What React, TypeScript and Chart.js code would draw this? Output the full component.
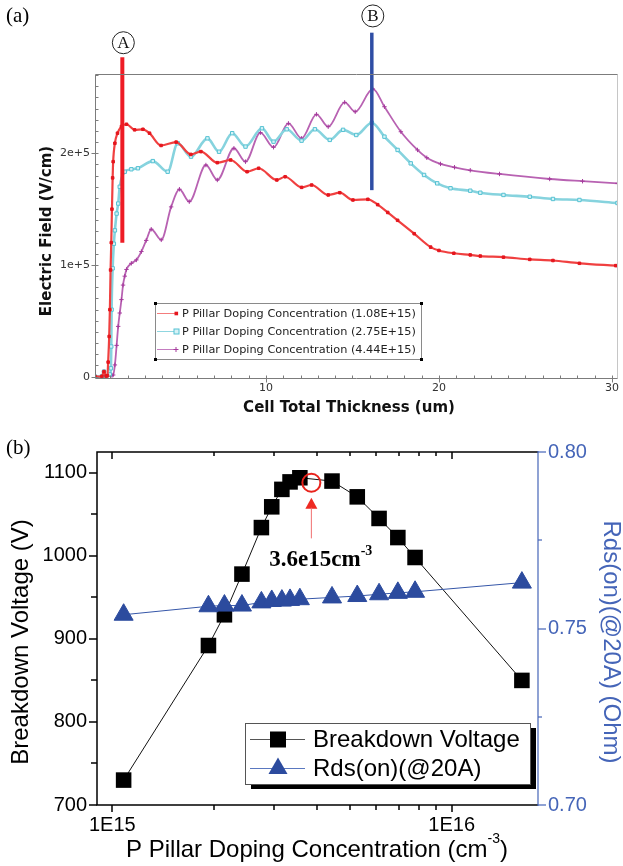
import React, { useEffect, useRef } from 'react';
import { Chart, registerables } from 'chart.js';
Chart.register(...registerables);

// ---------------- Panel (a): electric field along the cell ----------------
const thicknessRed = [0.13, 0.52, 0.64, 0.76, 0.84, 0.88, 0.94, 0.98, 1.02, 1.06, 1.10, 1.14, 1.17, 1.27, 1.42, 1.65, 1.94, 2.41, 2.89, 3.27, 3.94, 4.81, 5.66, 6.24, 7.19, 7.96, 8.91, 9.58, 10.63, 11.11, 12.06, 12.64, 13.60, 14.27, 15.03, 15.89, 16.46, 17.04, 17.61, 18.57, 19.52, 20.00, 20.86, 21.81, 22.39, 23.73, 25.25, 26.59, 28.12, 30.22];
const fieldRed = [0, 300, 4500, 500, 800, 13000, 36000, 60000, 95500, 120000, 150000, 178000, 192500, 209000, 218000, 224000, 226000, 221000, 221500, 218000, 207000, 210000, 199000, 201500, 191600, 194000, 183500, 186600, 176100, 179000, 169500, 171600, 162700, 164700, 158200, 158800, 154000, 147000, 140000, 128000, 116000, 113000, 110500, 109000, 108000, 107000, 105000, 104000, 101500, 99400];

const thicknessCyan = [0.13, 0.52, 0.64, 0.76, 0.98, 1.04, 1.06, 1.08, 1.14, 1.21, 1.27, 1.37, 1.46, 1.55, 1.84, 2.22, 2.60, 3.46, 4.32, 4.90, 5.67, 6.62, 7.29, 8.05, 8.82, 9.77, 10.44, 11.20, 12.06, 12.83, 13.69, 14.46, 15.22, 16.12, 16.85, 17.61, 18.37, 19.14, 19.90, 20.67, 21.81, 22.39, 23.73, 25.25, 26.59, 28.12, 30.32];
const fieldCyan = [0, 300, 4500, 500, 2000, 7500, 27000, 60000, 97000, 119000, 131000, 146000, 155000, 170000, 183500, 185700, 186600, 193000, 183500, 209000, 197000, 213400, 201400, 218000, 206000, 222400, 210400, 221500, 211300, 221500, 212000, 221000, 216400, 227400, 214900, 203000, 191000, 180600, 173100, 168700, 166500, 164700, 162700, 161100, 159100, 158200, 155500];

const thicknessMagenta = [0.13, 0.52, 0.64, 0.76, 1.10, 1.17, 1.27, 1.37, 1.46, 1.55, 1.65, 1.74, 1.84, 1.94, 2.22, 2.51, 2.80, 3.08, 3.37, 3.95, 4.52, 5.00, 5.57, 6.53, 7.19, 8.15, 8.82, 9.68, 10.44, 11.30, 12.06, 12.92, 13.60, 14.55, 15.16, 16.18, 16.85, 17.80, 18.76, 19.30, 20.09, 20.90, 21.81, 23.50, 26.40, 28.30, 30.32];
const fieldMagenta = [0, 300, 4500, 500, 1000, 1500, 10500, 28000, 45000, 57000, 69000, 82000, 90000, 96000, 101500, 104500, 112000, 122000, 132000, 122500, 152000, 167800, 156700, 189500, 176100, 204500, 192500, 218500, 205400, 226800, 213400, 234900, 223800, 245600, 237200, 257600, 241700, 219300, 203000, 196000, 190500, 187500, 184800, 181500, 177000, 175000, 173100];

const seriesLabelsA = [
  'P Pillar Doping Concentration (1.08E+15)',
  'P Pillar Doping Concentration (2.75E+15)',
  'P Pillar Doping Concentration (4.44E+15)',
];
const xTicksA = [10, 20, 30];
const yTicksA = [0, 100000, 200000];
const yTickLabelsA = ['0', '1e+5', '2e+5'];
const xTitleA = 'Cell Total Thickness (um)';
const yTitleA = 'Electric Field (V/cm)';

const markerNames = ['A', 'B'];
const markerX = [1.70, 16.12];
const markerYBottom = [120000, 167000];
const markerYTop = [286000, 308000];
const markerLabelY = [299000, 323000];

// ---------------- Panel (b): breakdown voltage & Rds(on) ----------------
const dopingConc = [1.08e15, 1.92e15, 2.14e15, 2.41e15, 2.75e15, 2.95e15, 3.16e15, 3.34e15, 3.57e15, 4.44e15, 5.27e15, 6.11e15, 6.94e15, 7.8e15, 1.61e16];
const breakdownV = [730, 892, 929, 978, 1034, 1059, 1080, 1089, 1094, 1090, 1071, 1045, 1022, 998, 850];
const rdsOn = [0.7539, 0.7563, 0.7565, 0.7565, 0.7574, 0.7578, 0.7579, 0.7581, 0.7583, 0.7588, 0.7592, 0.7597, 0.7601, 0.7604, 0.7630];

const seriesLabelsB = ['Breakdown Voltage', 'Rds(on)(@20A)'];
const xTicksB = [1e15, 1e16];
const xTickLabelsB = ['1E15', '1E16'];
const xMinorB = [2e15, 3e15, 4e15, 5e15, 6e15, 7e15, 8e15, 9e15];
const yTicksB = [700, 800, 900, 1000, 1100];
const yMinorB = [750, 850, 950, 1050];
const y2TicksB = [0.70, 0.75, 0.80];
const y2MinorB = [0.725, 0.775];
const xTitleB = 'P Pillar Doping Concentration (cm';
const xTitleBSup = '-3';
const yTitleB = 'Breakdown Voltage (V)';
const y2TitleB = 'Rds(on)(@20A) (Ohm)';

const optimumConc = 3.86e15;
const optimumV = 1088;
const arrowTipV = 1070;
const arrowTailV = 1021;
const optimumLabel = '3.6e15cm';
const optimumLabelSup = '-3';

const DEJAVU = '"DejaVu Sans", sans-serif';
const SANS = '"Liberation Sans", Arial, sans-serif';
const SERIF = '"Liberation Serif", "Times New Roman", serif';
const BLUE = '#2c4b9e';
const AXIS_BLUE = '#4565b8';

function seg(ctx: any, x1: number, y1: number, x2: number, y2: number) {
  ctx.beginPath();
  ctx.moveTo(x1, y1);
  ctx.lineTo(x2, y2);
  ctx.stroke();
}

const panelAPlugin = {
  id: 'panelA',
  afterDraw(chart: any) {
    const { ctx, chartArea: ca, scales } = chart;
    const xs = scales.x;
    const ys = scales.y;
    const L = Math.round(ca.left) + 0.5;
    const R = Math.round(ca.right) - 0.5;
    const T = Math.round(ca.top) + 0.5;
    const B = Math.round(ca.bottom) + 0.5;
    ctx.save();
    ctx.lineWidth = 1;
    ctx.strokeStyle = '#c6c6c6';
    seg(ctx, R, T, R, B);
    ctx.strokeStyle = '#7c7c7c';
    seg(ctx, L, T, R, T);
    seg(ctx, L, T, L, B);
    seg(ctx, L, B, R, B);
    // y ticks
    for (let v = 10000; v < 271000; v += 10000) {
      if (yTicksA.includes(v)) continue;
      const p = Math.round(ys.getPixelForValue(v)) + 0.5;
      seg(ctx, L, p, L + 3, p);
    }
    yTicksA.forEach((v) => {
      const p = Math.round(ys.getPixelForValue(v)) + 0.5;
      seg(ctx, L - 4, p, L + 3, p);
    });
    // x ticks
    for (let v = 1; v <= 30; v++) {
      if (xTicksA.includes(v)) continue;
      const p = Math.round(xs.getPixelForValue(v)) + 0.5;
      seg(ctx, p, B, p, B - 3);
    }
    xTicksA.forEach((v) => {
      const p = Math.round(xs.getPixelForValue(v)) + 0.5;
      seg(ctx, p, B + 4, p, B - 3);
    });

    // axis titles
    ctx.fillStyle = '#111';
    ctx.font = `bold 15px ${DEJAVU}`;
    ctx.textAlign = 'center';
    ctx.textBaseline = 'middle';
    ctx.fillText(xTitleA, 349, 408);
    ctx.save();
    ctx.translate(47, 231);
    ctx.rotate(-Math.PI / 2);
    ctx.fillText(yTitleA, 0, 0);
    ctx.restore();

    // panel label
    ctx.font = `21px ${SERIF}`;
    ctx.textAlign = 'left';
    ctx.fillStyle = '#000';
    ctx.fillText('(a)', 6, 16);

    // circled marker labels
    markerNames.forEach((name, i) => {
      const cx = xs.getPixelForValue(markerX[i]) + 1;
      const cy = ys.getPixelForValue(markerLabelY[i]);
      ctx.beginPath();
      ctx.arc(cx, cy, 11, 0, Math.PI * 2);
      ctx.strokeStyle = '#222';
      ctx.lineWidth = 1;
      ctx.stroke();
      ctx.fillStyle = '#111';
      ctx.font = `17px ${SERIF}`;
      ctx.textAlign = 'center';
      ctx.textBaseline = 'middle';
      ctx.fillText(name, cx, cy + 1);
    });

    // legend
    const bx = 155.5, by = 303.5, bw = 266, bh = 56;
    ctx.fillStyle = '#fff';
    ctx.fillRect(bx, by, bw, bh);
    ctx.strokeStyle = '#8a8a8a';
    ctx.lineWidth = 1;
    ctx.strokeRect(bx, by, bw, bh);
    ctx.fillStyle = '#000';
    [[bx, by], [bx + bw, by], [bx, by + bh], [bx + bw, by + bh]].forEach(([px, py]) => {
      ctx.fillRect(px - 1.5, py - 1.5, 3, 3);
    });
    const lineCols = ['#f47c7c', '#8fd6e0', '#c47cc0'];
    const ptCols = ['#e5161e', '#55c2d3', '#a53a9c'];
    seriesLabelsA.forEach((lab, i) => {
      const ly = 313.5 + i * 18;
      ctx.strokeStyle = lineCols[i];
      ctx.lineWidth = 1;
      seg(ctx, 157, ly, 178, ly);
      ctx.strokeStyle = ptCols[i];
      ctx.fillStyle = ptCols[i];
      if (i === 0) {
        ctx.fillRect(174.5, ly - 1.8, 3.6, 3.6);
      } else if (i === 1) {
        ctx.fillStyle = '#d6f2f6';
        ctx.fillRect(174, ly - 2.5, 5, 5);
        ctx.strokeRect(174, ly - 2.5, 5, 5);
      } else {
        seg(ctx, 173.5, ly, 178.5, ly);
        seg(ctx, 176, ly - 2.5, 176, ly + 2.5);
      }
      ctx.fillStyle = '#222';
      ctx.font = `11.3px ${DEJAVU}`;
      ctx.textAlign = 'left';
      ctx.textBaseline = 'middle';
      ctx.fillText(lab, 182, ly + 0.5);
    });
    ctx.restore();
  },
};

const panelBPlugin = {
  id: 'panelB',
  afterDraw(chart: any) {
    const { ctx, chartArea: ca, scales } = chart;
    const xs = scales.x;
    const ys = scales.y;
    const y2s = scales.y2;
    const L = Math.round(ca.left);
    const R = Math.round(ca.right);
    const T = Math.round(ca.top);
    const B = Math.round(ca.bottom);
    ctx.save();
    // frame
    ctx.strokeStyle = '#000';
    ctx.lineWidth = 1.5;
    ctx.beginPath();
    ctx.moveTo(R, T);
    ctx.lineTo(L, T);
    ctx.lineTo(L, B);
    ctx.lineTo(R, B);
    ctx.stroke();
    // left ticks
    yTicksB.forEach((v) => {
      const p = Math.round(ys.getPixelForValue(v));
      seg(ctx, L - 8, p, L, p);
    });
    yMinorB.forEach((v) => {
      const p = Math.round(ys.getPixelForValue(v));
      seg(ctx, L - 6, p, L, p);
    });
    // bottom & top ticks
    xTicksB.forEach((v) => {
      const p = Math.round(xs.getPixelForValue(v));
      seg(ctx, p, B, p, B + 7);
      seg(ctx, p, T, p, T + 7);
    });
    xMinorB.forEach((v) => {
      const p = Math.round(xs.getPixelForValue(v));
      seg(ctx, p, B, p, B + 5);
      seg(ctx, p, T, p, T + 4);
    });
    // right axis
    ctx.strokeStyle = AXIS_BLUE;
    ctx.lineWidth = 1.2;
    seg(ctx, R, T - 1, R, B + 1);
    y2TicksB.forEach((v) => {
      const p = Math.round(y2s.getPixelForValue(v));
      seg(ctx, R, p, R + 8, p);
    });
    y2MinorB.forEach((v) => {
      const p = Math.round(y2s.getPixelForValue(v));
      seg(ctx, R, p, R + 4, p);
    });

    // axis titles
    ctx.textBaseline = 'middle';
    ctx.textAlign = 'center';
    ctx.font = `24px ${SANS}`;
    ctx.fillStyle = '#000';
    ctx.save();
    ctx.translate(21, 212);
    ctx.rotate(-Math.PI / 2);
    ctx.fillText(yTitleB, 0, 0);
    ctx.restore();
    ctx.fillStyle = AXIS_BLUE;
    ctx.save();
    ctx.translate(611, 212);
    ctx.rotate(Math.PI / 2);
    ctx.fillText(y2TitleB, 0, 0);
    ctx.restore();

    // bottom title with superscript
    ctx.fillStyle = '#000';
    ctx.textAlign = 'left';
    ctx.font = `24px ${SANS}`;
    const w1 = ctx.measureText(xTitleB).width;
    const w3 = ctx.measureText(')').width;
    ctx.font = `14px ${SANS}`;
    const w2 = ctx.measureText(xTitleBSup).width;
    const total = w1 + w2 + w3;
    const sx = 317 - total / 2;
    ctx.font = `24px ${SANS}`;
    ctx.fillText(xTitleB, sx, 420);
    ctx.fillText(')', sx + w1 + w2, 420);
    ctx.font = `14px ${SANS}`;
    ctx.fillText(xTitleBSup, sx + w1, 409);

    // panel label
    ctx.font = `21px ${SERIF}`;
    ctx.fillText('(b)', 6, 18);

    // optimum annotation
    const cx = xs.getPixelForValue(optimumConc);
    const cy = ys.getPixelForValue(optimumV);
    ctx.strokeStyle = '#e8231c';
    ctx.lineWidth = 2;
    ctx.beginPath();
    ctx.arc(cx, cy, 9, 0, Math.PI * 2);
    ctx.stroke();
    const tip = ys.getPixelForValue(arrowTipV);
    const tail = ys.getPixelForValue(arrowTailV);
    ctx.fillStyle = '#ee2a22';
    ctx.beginPath();
    ctx.moveTo(cx, tip);
    ctx.lineTo(cx - 6, tip + 11);
    ctx.lineTo(cx + 6, tip + 11);
    ctx.closePath();
    ctx.fill();
    ctx.strokeStyle = '#f07070';
    ctx.lineWidth = 1;
    seg(ctx, cx, tip + 10, cx, tail);
    ctx.fillStyle = '#000';
    ctx.font = `bold 23px ${SERIF}`;
    ctx.textAlign = 'left';
    const tx = cx - 42;
    ctx.fillText(optimumLabel, tx, tail + 22);
    const tw = ctx.measureText(optimumLabel).width;
    ctx.font = `bold 14px ${SERIF}`;
    ctx.fillText(optimumLabelSup, tx + tw, tail + 13);

    // legend with drop shadow
    const lx = 245, ly = 293, lw = 285, lh = 61;
    ctx.fillStyle = '#000';
    ctx.fillRect(lx + 6, ly + 5, lw, lh);
    ctx.fillStyle = '#fff';
    ctx.fillRect(lx, ly, lw, lh);
    ctx.strokeStyle = '#555';
    ctx.lineWidth = 1;
    ctx.strokeRect(lx + 0.5, ly + 0.5, lw, lh);
    const rows = [309.5, 338.5];
    // entry 1
    ctx.strokeStyle = '#555';
    seg(ctx, 250, rows[0], 305, rows[0]);
    ctx.fillStyle = '#000';
    ctx.fillRect(270, rows[0] - 8, 16, 16);
    // entry 2
    ctx.strokeStyle = '#5a78c0';
    seg(ctx, 250, rows[1], 305, rows[1]);
    ctx.fillStyle = BLUE;
    ctx.beginPath();
    ctx.moveTo(278, rows[1] - 11);
    ctx.lineTo(268.5, rows[1] + 5.5);
    ctx.lineTo(287.5, rows[1] + 5.5);
    ctx.closePath();
    ctx.fill();
    ctx.fillStyle = '#000';
    ctx.font = `24px ${SANS}`;
    ctx.textAlign = 'left';
    ctx.textBaseline = 'middle';
    seriesLabelsB.forEach((lab, i) => ctx.fillText(lab, 313, rows[i] + 1));
    ctx.restore();
  },
};

function pts(xs: number[], ys: number[]) {
  return xs.map((x, i) => ({ x, y: ys[i] }));
}

function makeConfigA(): any {
  return {
    type: 'line',
    data: {
      datasets: [
        ...markerNames.map((name, i) => ({
          label: name,
          data: [
            { x: markerX[i], y: markerYBottom[i] },
            { x: markerX[i], y: markerYTop[i] },
          ],
          borderColor: i === 0 ? '#ee1c25' : '#2f4ea5',
          borderWidth: i === 0 ? 4 : 3.5,
          pointRadius: 0,
          clip: false,
          order: -1,
        })),
        {
          label: seriesLabelsA[0],
          data: pts(thicknessRed, fieldRed),
          borderColor: '#f04040',
          borderWidth: 2.2,
          pointStyle: 'rect',
          pointRadius: 1.8,
          pointBackgroundColor: '#e5161e',
          pointBorderColor: '#e5161e',
          pointBorderWidth: 1,
          cubicInterpolationMode: 'monotone',
        },
        {
          label: seriesLabelsA[1],
          data: pts(thicknessCyan, fieldCyan),
          borderColor: '#86d3de',
          borderWidth: 2.6,
          pointStyle: 'rect',
          pointRadius: 2.4,
          pointBackgroundColor: '#d6f2f6',
          pointBorderColor: '#55c2d3',
          pointBorderWidth: 1,
          cubicInterpolationMode: 'monotone',
        },
        {
          label: seriesLabelsA[2],
          data: pts(thicknessMagenta, fieldMagenta),
          borderColor: '#b862b2',
          borderWidth: 1.8,
          pointStyle: 'cross',
          pointRadius: 2.2,
          pointBorderColor: '#a53a9c',
          pointBorderWidth: 1,
          cubicInterpolationMode: 'monotone',
        },
      ],
    },
    options: {
      animation: false,
      responsive: false,
      devicePixelRatio: 1,
      layout: { padding: { top: 74, right: 1, left: 0, bottom: 0 } },
      plugins: { legend: { display: false }, tooltip: { enabled: false } },
      scales: {
        x: {
          type: 'linear',
          min: 0.12,
          max: 30.34,
          afterBuildTicks: (s: any) => {
            s.ticks = xTicksA.map((v) => ({ value: v }));
          },
          afterFit: (s: any) => {
            s.height = 52;
          },
          grid: { display: false, drawTicks: false },
          border: { display: false },
          ticks: {
            autoSkip: false,
            maxRotation: 0,
            padding: 4,
            color: '#333',
            font: { family: DEJAVU, size: 11 },
            callback: (v: any) => String(v),
          },
        },
        y: {
          type: 'linear',
          min: -1200,
          max: 271000,
          afterBuildTicks: (s: any) => {
            s.ticks = yTicksA.map((v) => ({ value: v }));
          },
          afterFit: (s: any) => {
            s.width = 95;
          },
          grid: { display: false, drawTicks: false },
          border: { display: false },
          ticks: {
            autoSkip: false,
            padding: 5,
            color: '#333',
            font: { family: DEJAVU, size: 11 },
            callback: (_v: any, i: number) => yTickLabelsA[i],
          },
        },
      },
    },
    plugins: [panelAPlugin],
  };
}

function makeConfigB(): any {
  return {
    type: 'line',
    data: {
      datasets: [
        {
          label: seriesLabelsB[1],
          data: pts(dopingConc, rdsOn),
          yAxisID: 'y2',
          borderColor: '#3556a8',
          borderWidth: 1,
          pointStyle: 'triangle',
          pointRadius: 11,
          pointBackgroundColor: BLUE,
          pointBorderColor: BLUE,
          pointBorderWidth: 1,
          tension: 0,
          order: 0,
        },
        {
          label: seriesLabelsB[0],
          data: pts(dopingConc, breakdownV),
          yAxisID: 'y',
          borderColor: '#111',
          borderWidth: 1,
          pointStyle: 'rect',
          pointRadius: 11,
          pointBackgroundColor: '#000',
          pointBorderColor: '#000',
          pointBorderWidth: 0,
          tension: 0,
          order: 1,
        },
      ],
    },
    options: {
      animation: false,
      responsive: false,
      devicePixelRatio: 1,
      layout: { padding: { top: 18, right: 0, left: 0, bottom: 0 } },
      plugins: { legend: { display: false }, tooltip: { enabled: false } },
      scales: {
        x: {
          type: 'logarithmic',
          min: 9.015e14,
          max: 1.796e16,
          afterBuildTicks: (s: any) => {
            s.ticks = xTicksB.map((v) => ({ value: v }));
          },
          afterFit: (s: any) => {
            s.height = 61;
          },
          grid: { display: false, drawTicks: false },
          border: { display: false },
          ticks: {
            autoSkip: false,
            maxRotation: 0,
            padding: 8,
            color: '#000',
            font: { family: SANS, size: 20 },
            callback: (_v: any, i: number) => xTickLabelsB[i],
          },
        },
        y: {
          type: 'linear',
          position: 'left',
          min: 700,
          max: 1125,
          afterBuildTicks: (s: any) => {
            s.ticks = yTicksB.map((v) => ({ value: v }));
          },
          afterFit: (s: any) => {
            s.width = 97;
          },
          grid: { display: false, drawTicks: false },
          border: { display: false },
          ticks: {
            autoSkip: false,
            padding: 10,
            color: '#000',
            font: { family: SANS, size: 20 },
            callback: (v: any) => String(v),
          },
        },
        y2: {
          type: 'linear',
          position: 'right',
          min: 0.7,
          max: 0.8,
          afterBuildTicks: (s: any) => {
            s.ticks = y2TicksB.map((v) => ({ value: v }));
          },
          afterFit: (s: any) => {
            s.width = 85;
          },
          grid: { display: false, drawTicks: false },
          border: { display: false },
          ticks: {
            autoSkip: false,
            padding: 10,
            color: AXIS_BLUE,
            font: { family: SANS, size: 20 },
            callback: (v: any) => Number(v).toFixed(2),
          },
        },
      },
    },
    plugins: [panelBPlugin],
  };
}

export default function App() {
  const refA = useRef<HTMLCanvasElement>(null);
  const refB = useRef<HTMLCanvasElement>(null);
  useEffect(() => {
    const a = new Chart(refA.current as HTMLCanvasElement, makeConfigA());
    const b = new Chart(refB.current as HTMLCanvasElement, makeConfigB());
    return () => {
      a.destroy();
      b.destroy();
    };
  }, []);
  return (
    <div style={{ position: 'absolute', left: 0, top: 0, width: 623, height: 866, background: '#fff', overflow: 'hidden' }}>
      <canvas ref={refA} width={623} height={430} style={{ position: 'absolute', left: 0, top: 0, width: 623, height: 430 }} />
      <canvas ref={refB} width={623} height={436} style={{ position: 'absolute', left: 0, top: 430, width: 623, height: 436 }} />
    </div>
  );
}
